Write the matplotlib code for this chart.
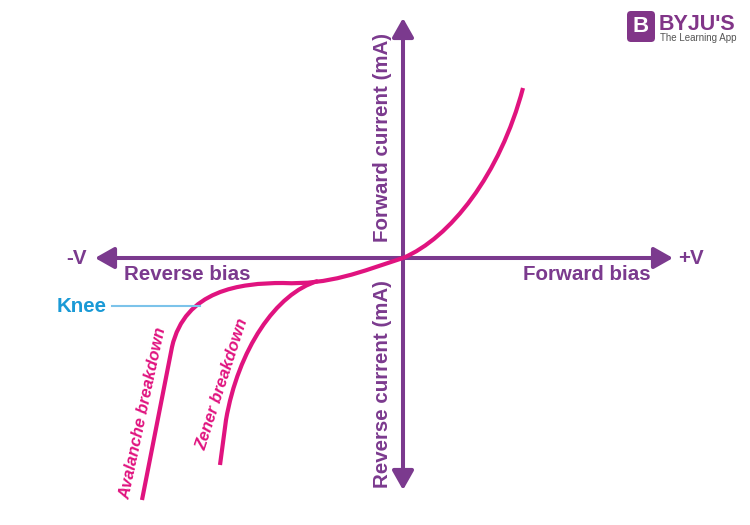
import matplotlib
matplotlib.use("Agg")
import matplotlib.pyplot as plt
from matplotlib.patches import FancyBboxPatch, FancyArrowPatch, PathPatch
from matplotlib.path import Path

# ---- data (pixel-space diagram coordinates; Bezier vertices) ----
forward_x = [403, 450, 500, 523]
forward_y = [258, 238, 175, 88]
forward_codes = [Path.MOVETO, Path.CURVE4, Path.CURVE4, Path.CURVE4]

reverse_x = [403, 360, 330, 283, 240, 185, 172, 142]
reverse_y = [258, 272, 285, 283, 283, 290, 347, 500]
reverse_codes = [Path.MOVETO, Path.CURVE4, Path.CURVE4, Path.CURVE4,
                 Path.CURVE4, Path.CURVE4, Path.CURVE4, Path.LINETO]

zener_x = [318, 276, 238, 226, 220]
zener_y = [281, 293, 350, 420, 465]
zener_codes = [Path.MOVETO, Path.CURVE4, Path.CURVE4, Path.CURVE4, Path.LINETO]

knee_x = [112, 200]
knee_y = [306, 306]

PURPLE = "#7b3a8e"
PINK = "#e0137f"
BLUE = "#1a9ad6"

fig = plt.figure(figsize=(7.5, 5.25), dpi=100)
ax = fig.add_axes([0, 0, 1, 1])
ax.set_xlim(0, 750)
ax.set_ylim(525, 0)
ax.axis("off")

FONT = "Liberation Sans"

# axes arrows
for (x0, y0, x1, y1) in [(403, 258, 95, 258), (403, 258, 673, 258),
                         (403, 258, 403, 18), (403, 258, 403, 490)]:
    ax.add_patch(FancyArrowPatch((x0, y0), (x1, y1), arrowstyle="-|>,head_length=11.5,head_width=6.5",
                                 mutation_scale=1, color=PURPLE, lw=2.9, shrinkA=0, shrinkB=0))

# curves
for xs, ys, codes in [(forward_x, forward_y, forward_codes),
                      (reverse_x, reverse_y, reverse_codes),
                      (zener_x, zener_y, zener_codes)]:
    ax.add_patch(PathPatch(Path(list(zip(xs, ys)), codes), fc="none", ec=PINK, lw=3,
                           capstyle="butt", joinstyle="round"))
ax.plot(knee_x, knee_y, color="#7cc3ea", lw=1.5)

tk = dict(family=FONT, fontweight="bold", fontsize=14.8)
ax.text(87, 259, "-V", color=PURPLE, ha="right", va="center", **tk)
ax.text(678, 259, "+V", color=PURPLE, ha="left", va="center", **tk)
ax.text(124, 275, "Reverse bias", color=PURPLE, ha="left", va="center", **tk)
ax.text(523, 275, "Forward bias", color=PURPLE, ha="left", va="center", **tk)
ax.text(383, 138, "Forward current (mA)", color=PURPLE, ha="center", va="center", rotation=90, **tk)
ax.text(383, 384, "Reverse current (mA)", color=PURPLE, ha="center", va="center", rotation=90, **tk)
ax.text(107, 307, "Knee", color=BLUE, ha="right", va="center", **tk)

ax.text(143, 413, "Avalanche breakdown", color=PINK, ha="center", va="center",
        rotation=78, family=FONT, fontweight="bold", fontstyle="italic", fontsize=12)
ax.text(222, 384, "Zener breakdown", color=PINK, ha="center", va="center",
        rotation=72, family=FONT, fontweight="bold", fontstyle="italic", fontsize=12)

# logo
ax.add_patch(FancyBboxPatch((627, 11), 28, 31, boxstyle="round,pad=0,rounding_size=4",
                            fc="#813588", ec="none"))
ax.text(641, 27, "B", color="white", ha="center", va="center", family=FONT,
        fontweight="bold", fontsize=16)
ax.text(659, 24, "BYJU'S", color="#813588", ha="left", va="center", family=FONT,
        fontweight="bold", fontsize=15.5)
ax.text(660, 38, "The Learning App", color="#555555", ha="left", va="center", family=FONT,
        fontsize=7)

fig.savefig("out.png", dpi=100)
